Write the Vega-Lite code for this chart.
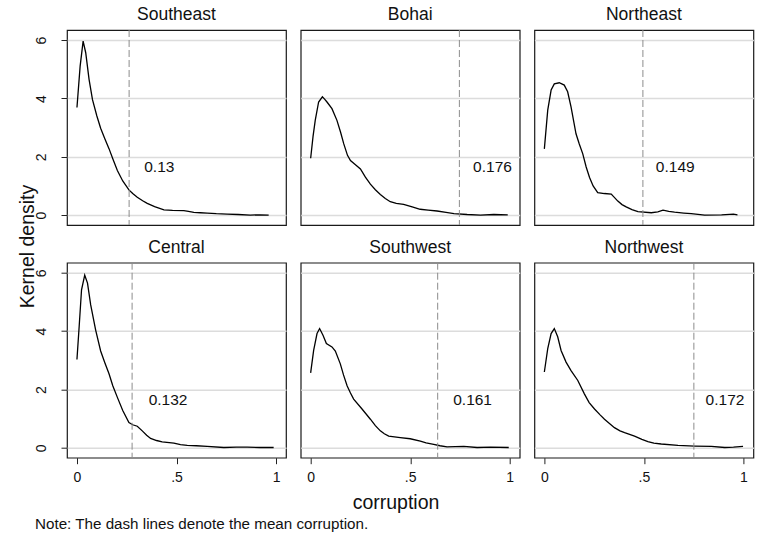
{
  "$schema": "https://vega.github.io/schema/vega-lite/v6.json",
  "background": "#ffffff",
  "padding": {"left": 16, "top": 5, "right": 5, "bottom": 5},
  "datasets": {
    "curves": [
      {"region":"Southeast","corruption":0.0,"density":3.69},{"region":"Southeast","corruption":0.016,"density":5.11},{"region":"Southeast","corruption":0.031,"density":5.97},{"region":"Southeast","corruption":0.044,"density":5.57},{"region":"Southeast","corruption":0.061,"density":4.65},{"region":"Southeast","corruption":0.078,"density":3.96},{"region":"Southeast","corruption":0.10,"density":3.4},{"region":"Southeast","corruption":0.119,"density":2.98},{"region":"Southeast","corruption":0.14,"density":2.62},{"region":"Southeast","corruption":0.161,"density":2.28},{"region":"Southeast","corruption":0.18,"density":1.93},{"region":"Southeast","corruption":0.203,"density":1.53},{"region":"Southeast","corruption":0.23,"density":1.17},{"region":"Southeast","corruption":0.261,"density":0.865},{"region":"Southeast","corruption":0.28,"density":0.74},{"region":"Southeast","corruption":0.303,"density":0.61},{"region":"Southeast","corruption":0.33,"density":0.49},{"region":"Southeast","corruption":0.353,"density":0.40},{"region":"Southeast","corruption":0.39,"density":0.29},{"region":"Southeast","corruption":0.437,"density":0.18},{"region":"Southeast","corruption":0.48,"density":0.16},{"region":"Southeast","corruption":0.537,"density":0.15},{"region":"Southeast","corruption":0.56,"density":0.13},{"region":"Southeast","corruption":0.587,"density":0.09},{"region":"Southeast","corruption":0.62,"density":0.08},{"region":"Southeast","corruption":0.654,"density":0.07},{"region":"Southeast","corruption":0.70,"density":0.05},{"region":"Southeast","corruption":0.754,"density":0.035},{"region":"Southeast","corruption":0.81,"density":0.02},{"region":"Southeast","corruption":0.87,"density":0.0},{"region":"Southeast","corruption":0.92,"density":0.01},{"region":"Southeast","corruption":0.963,"density":0.0},
      {"region":"Bohai","corruption":0.0,"density":1.95},{"region":"Bohai","corruption":0.012,"density":2.7},{"region":"Bohai","corruption":0.023,"density":3.25},{"region":"Bohai","corruption":0.04,"density":3.88},{"region":"Bohai","corruption":0.059,"density":4.06},{"region":"Bohai","corruption":0.07,"density":3.98},{"region":"Bohai","corruption":0.082,"density":3.88},{"region":"Bohai","corruption":0.107,"density":3.65},{"region":"Bohai","corruption":0.132,"density":3.25},{"region":"Bohai","corruption":0.15,"density":2.85},{"region":"Bohai","corruption":0.166,"density":2.45},{"region":"Bohai","corruption":0.185,"density":2.05},{"region":"Bohai","corruption":0.2,"density":1.87},{"region":"Bohai","corruption":0.225,"density":1.73},{"region":"Bohai","corruption":0.25,"density":1.58},{"region":"Bohai","corruption":0.275,"density":1.3},{"region":"Bohai","corruption":0.30,"density":1.06},{"region":"Bohai","corruption":0.325,"density":0.87},{"region":"Bohai","corruption":0.35,"density":0.71},{"region":"Bohai","corruption":0.375,"density":0.57},{"region":"Bohai","corruption":0.40,"density":0.46},{"region":"Bohai","corruption":0.43,"density":0.40},{"region":"Bohai","corruption":0.467,"density":0.37},{"region":"Bohai","corruption":0.51,"density":0.28},{"region":"Bohai","corruption":0.55,"density":0.20},{"region":"Bohai","corruption":0.59,"density":0.17},{"region":"Bohai","corruption":0.635,"density":0.14},{"region":"Bohai","corruption":0.68,"density":0.09},{"region":"Bohai","corruption":0.72,"density":0.05},{"region":"Bohai","corruption":0.786,"density":0.02},{"region":"Bohai","corruption":0.853,"density":0.0},{"region":"Bohai","corruption":0.92,"density":0.02},{"region":"Bohai","corruption":0.99,"density":0.01},
      {"region":"Northeast","corruption":0.0,"density":2.27},{"region":"Northeast","corruption":0.017,"density":3.6},{"region":"Northeast","corruption":0.034,"density":4.29},{"region":"Northeast","corruption":0.05,"density":4.5},{"region":"Northeast","corruption":0.075,"density":4.54},{"region":"Northeast","corruption":0.10,"density":4.46},{"region":"Northeast","corruption":0.117,"density":4.23},{"region":"Northeast","corruption":0.134,"density":3.71},{"region":"Northeast","corruption":0.159,"density":2.79},{"region":"Northeast","corruption":0.175,"density":2.45},{"region":"Northeast","corruption":0.193,"density":2.10},{"region":"Northeast","corruption":0.21,"density":1.65},{"region":"Northeast","corruption":0.227,"density":1.29},{"region":"Northeast","corruption":0.245,"density":1.0},{"region":"Northeast","corruption":0.268,"density":0.77},{"region":"Northeast","corruption":0.302,"density":0.74},{"region":"Northeast","corruption":0.336,"density":0.72},{"region":"Northeast","corruption":0.369,"density":0.48},{"region":"Northeast","corruption":0.39,"density":0.36},{"region":"Northeast","corruption":0.411,"density":0.28},{"region":"Northeast","corruption":0.44,"density":0.19},{"region":"Northeast","corruption":0.47,"density":0.12},{"region":"Northeast","corruption":0.537,"density":0.08},{"region":"Northeast","corruption":0.57,"density":0.11},{"region":"Northeast","corruption":0.596,"density":0.17},{"region":"Northeast","corruption":0.625,"density":0.13},{"region":"Northeast","corruption":0.654,"density":0.10},{"region":"Northeast","corruption":0.70,"density":0.07},{"region":"Northeast","corruption":0.738,"density":0.05},{"region":"Northeast","corruption":0.805,"density":0.0},{"region":"Northeast","corruption":0.89,"density":0.01},{"region":"Northeast","corruption":0.95,"density":0.03},{"region":"Northeast","corruption":0.97,"density":0.01},
      {"region":"Central","corruption":0.0,"density":3.03},{"region":"Central","corruption":0.011,"density":4.15},{"region":"Central","corruption":0.023,"density":5.42},{"region":"Central","corruption":0.039,"density":5.92},{"region":"Central","corruption":0.053,"density":5.65},{"region":"Central","corruption":0.069,"density":4.9},{"region":"Central","corruption":0.094,"density":4.04},{"region":"Central","corruption":0.119,"density":3.32},{"region":"Central","corruption":0.14,"density":2.92},{"region":"Central","corruption":0.161,"density":2.54},{"region":"Central","corruption":0.18,"density":2.13},{"region":"Central","corruption":0.203,"density":1.73},{"region":"Central","corruption":0.23,"density":1.28},{"region":"Central","corruption":0.261,"density":0.865},{"region":"Central","corruption":0.28,"density":0.79},{"region":"Central","corruption":0.303,"density":0.74},{"region":"Central","corruption":0.328,"density":0.58},{"region":"Central","corruption":0.35,"density":0.43},{"region":"Central","corruption":0.37,"density":0.32},{"region":"Central","corruption":0.40,"density":0.25},{"region":"Central","corruption":0.428,"density":0.20},{"region":"Central","corruption":0.487,"density":0.16},{"region":"Central","corruption":0.52,"density":0.11},{"region":"Central","corruption":0.554,"density":0.08},{"region":"Central","corruption":0.60,"density":0.07},{"region":"Central","corruption":0.654,"density":0.05},{"region":"Central","corruption":0.738,"density":0.01},{"region":"Central","corruption":0.80,"density":0.02},{"region":"Central","corruption":0.855,"density":0.02},{"region":"Central","corruption":0.92,"density":0.01},{"region":"Central","corruption":0.988,"density":0.01},
      {"region":"Southwest","corruption":0.0,"density":2.57},{"region":"Southwest","corruption":0.015,"density":3.34},{"region":"Southwest","corruption":0.032,"density":3.92},{"region":"Southwest","corruption":0.045,"density":4.09},{"region":"Southwest","corruption":0.062,"density":3.86},{"region":"Southwest","corruption":0.079,"density":3.58},{"region":"Southwest","corruption":0.107,"density":3.46},{"region":"Southwest","corruption":0.124,"density":3.32},{"region":"Southwest","corruption":0.149,"density":2.88},{"region":"Southwest","corruption":0.165,"density":2.5},{"region":"Southwest","corruption":0.183,"density":2.13},{"region":"Southwest","corruption":0.2,"density":1.88},{"region":"Southwest","corruption":0.216,"density":1.67},{"region":"Southwest","corruption":0.258,"density":1.33},{"region":"Southwest","corruption":0.30,"density":0.98},{"region":"Southwest","corruption":0.325,"density":0.76},{"region":"Southwest","corruption":0.35,"density":0.58},{"region":"Southwest","corruption":0.37,"density":0.48},{"region":"Southwest","corruption":0.392,"density":0.40},{"region":"Southwest","corruption":0.45,"density":0.35},{"region":"Southwest","corruption":0.50,"density":0.31},{"region":"Southwest","corruption":0.551,"density":0.23},{"region":"Southwest","corruption":0.58,"density":0.17},{"region":"Southwest","corruption":0.618,"density":0.12},{"region":"Southwest","corruption":0.65,"density":0.07},{"region":"Southwest","corruption":0.685,"density":0.03},{"region":"Southwest","corruption":0.769,"density":0.05},{"region":"Southwest","corruption":0.836,"density":0.01},{"region":"Southwest","corruption":0.903,"density":0.02},{"region":"Southwest","corruption":0.995,"density":0.01},
      {"region":"Northwest","corruption":0.0,"density":2.6},{"region":"Northwest","corruption":0.017,"density":3.4},{"region":"Northwest","corruption":0.034,"density":3.92},{"region":"Northwest","corruption":0.05,"density":4.09},{"region":"Northwest","corruption":0.067,"density":3.81},{"region":"Northwest","corruption":0.084,"density":3.34},{"region":"Northwest","corruption":0.109,"density":2.94},{"region":"Northwest","corruption":0.134,"density":2.65},{"region":"Northwest","corruption":0.168,"density":2.31},{"region":"Northwest","corruption":0.201,"density":1.85},{"region":"Northwest","corruption":0.225,"density":1.55},{"region":"Northwest","corruption":0.252,"density":1.33},{"region":"Northwest","corruption":0.28,"density":1.13},{"region":"Northwest","corruption":0.302,"density":0.98},{"region":"Northwest","corruption":0.33,"density":0.82},{"region":"Northwest","corruption":0.352,"density":0.69},{"region":"Northwest","corruption":0.38,"density":0.58},{"region":"Northwest","corruption":0.403,"density":0.52},{"region":"Northwest","corruption":0.453,"density":0.40},{"region":"Northwest","corruption":0.49,"density":0.29},{"region":"Northwest","corruption":0.52,"density":0.21},{"region":"Northwest","corruption":0.55,"density":0.16},{"region":"Northwest","corruption":0.587,"density":0.13},{"region":"Northwest","corruption":0.671,"density":0.08},{"region":"Northwest","corruption":0.755,"density":0.06},{"region":"Northwest","corruption":0.839,"density":0.05},{"region":"Northwest","corruption":0.906,"density":0.01},{"region":"Northwest","corruption":0.95,"density":0.02},{"region":"Northwest","corruption":0.998,"density":0.05}
    ],
    "means": [
      {"region":"Southeast","mean_line":0.262,"label_x":0.338,"label_y":1.65,"label":"0.13"},
      {"region":"Bohai","mean_line":0.747,"label_x":0.816,"label_y":1.65,"label":"0.176"},
      {"region":"Northeast","mean_line":0.495,"label_x":0.56,"label_y":1.65,"label":"0.149"},
      {"region":"Central","mean_line":0.277,"label_x":0.36,"label_y":1.65,"label":"0.132"},
      {"region":"Southwest","mean_line":0.638,"label_x":0.716,"label_y":1.65,"label":"0.161"},
      {"region":"Northwest","mean_line":0.751,"label_x":0.81,"label_y":1.65,"label":"0.172"}
    ]
  },
  "title": {"text": "Note: The dash lines denote the mean corruption.", "orient": "bottom", "anchor": "start", "frame": "group", "fontSize": 15.2, "fontWeight": "normal", "color": "#111", "baseline": "alphabetic", "offset": 16, "dx": -32},
  "columns": 3,
  "spacing": {"row": 37.7, "column": 14.7},
  "bounds": "flush",
  "concat": [
    {"width":219,"height":195,"title":{"text":"Southeast"},
     "layer":[
      {"data":{"name":"curves"},"transform":[{"filter":"datum.region === 'Southeast'"}],"mark":{"type":"line","color":"#000","strokeWidth":1.3},
       "encoding":{"x":{"field":"corruption","type":"quantitative","scale":{"domain":[-0.05,1.05],"nice":false,"zero":false},"axis":null},
                   "y":{"field":"density","type":"quantitative","scale":{"domain":[-0.34,6.35],"nice":false,"zero":false},"axis":{"values":[0,2,4,6],"grid":true,"labelAngle":-90,"labelAlign":"center","labelBaseline":"alphabetic","labelPadding":16,"title":"Kernel density","titleX":-33.5,"titleY":216,"titleAngle":270,"titleAlign":"center","titleBaseline":"alphabetic"}}}},
      {"data":{"name":"means"},"transform":[{"filter":"datum.region === 'Southeast'"}],"mark":{"type":"rule","strokeDash":[7,3],"color":"#8c8c8c","strokeWidth":1},
       "encoding":{"x":{"field":"mean_line","type":"quantitative","axis":null}}},
      {"data":{"name":"means"},"transform":[{"filter":"datum.region === 'Southeast'"}],"mark":{"type":"text","align":"left","baseline":"middle","font":"Liberation Sans","fontSize":15.5,"color":"#111"},
       "encoding":{"x":{"field":"label_x","type":"quantitative","axis":null},"y":{"field":"label_y","type":"quantitative","axis":{"values":[0,2,4,6],"grid":true,"labelAngle":-90,"labelAlign":"center","labelBaseline":"alphabetic","labelPadding":16,"title":"Kernel density","titleX":-33.5,"titleY":216,"titleAngle":270,"titleAlign":"center","titleBaseline":"alphabetic"}},"text":{"field":"label"}}}
     ]},
    {"width":219,"height":195,"title":{"text":"Bohai"},
     "layer":[
      {"data":{"name":"curves"},"transform":[{"filter":"datum.region === 'Bohai'"}],"mark":{"type":"line","color":"#000","strokeWidth":1.3},
       "encoding":{"x":{"field":"corruption","type":"quantitative","scale":{"domain":[-0.05,1.05],"nice":false,"zero":false},"axis":null},
                   "y":{"field":"density","type":"quantitative","scale":{"domain":[-0.34,6.35],"nice":false,"zero":false},"axis":{"values":[0,2,4,6],"grid":true,"labels":false,"ticks":false,"title":null}}}},
      {"data":{"name":"means"},"transform":[{"filter":"datum.region === 'Bohai'"}],"mark":{"type":"rule","strokeDash":[7,3],"color":"#8c8c8c","strokeWidth":1},
       "encoding":{"x":{"field":"mean_line","type":"quantitative","axis":null}}},
      {"data":{"name":"means"},"transform":[{"filter":"datum.region === 'Bohai'"}],"mark":{"type":"text","align":"left","baseline":"middle","font":"Liberation Sans","fontSize":15.5,"color":"#111"},
       "encoding":{"x":{"field":"label_x","type":"quantitative","axis":null},"y":{"field":"label_y","type":"quantitative","axis":{"values":[0,2,4,6],"grid":true,"labels":false,"ticks":false,"title":null}},"text":{"field":"label"}}}
     ]},
    {"width":219,"height":195,"title":{"text":"Northeast"},
     "layer":[
      {"data":{"name":"curves"},"transform":[{"filter":"datum.region === 'Northeast'"}],"mark":{"type":"line","color":"#000","strokeWidth":1.3},
       "encoding":{"x":{"field":"corruption","type":"quantitative","scale":{"domain":[-0.05,1.05],"nice":false,"zero":false},"axis":null},
                   "y":{"field":"density","type":"quantitative","scale":{"domain":[-0.34,6.35],"nice":false,"zero":false},"axis":{"values":[0,2,4,6],"grid":true,"labels":false,"ticks":false,"title":null}}}},
      {"data":{"name":"means"},"transform":[{"filter":"datum.region === 'Northeast'"}],"mark":{"type":"rule","strokeDash":[7,3],"color":"#8c8c8c","strokeWidth":1},
       "encoding":{"x":{"field":"mean_line","type":"quantitative","axis":null}}},
      {"data":{"name":"means"},"transform":[{"filter":"datum.region === 'Northeast'"}],"mark":{"type":"text","align":"left","baseline":"middle","font":"Liberation Sans","fontSize":15.5,"color":"#111"},
       "encoding":{"x":{"field":"label_x","type":"quantitative","axis":null},"y":{"field":"label_y","type":"quantitative","axis":{"values":[0,2,4,6],"grid":true,"labels":false,"ticks":false,"title":null}},"text":{"field":"label"}}}
     ]},
    {"width":219,"height":195,"title":{"text":"Central"},
     "layer":[
      {"data":{"name":"curves"},"transform":[{"filter":"datum.region === 'Central'"}],"mark":{"type":"line","color":"#000","strokeWidth":1.3},
       "encoding":{"x":{"field":"corruption","type":"quantitative","scale":{"domain":[-0.05,1.05],"nice":false,"zero":false},"axis":{"values":[0,0.5,1],"grid":false,"labelFlush":false,"labelExpr":"datum.value == 0.5 ? '.5' : (datum.value == 1 ? '1' : '0')","title":null}},
                   "y":{"field":"density","type":"quantitative","scale":{"domain":[-0.34,6.35],"nice":false,"zero":false},"axis":{"values":[0,2,4,6],"grid":true,"labelAngle":-90,"labelAlign":"center","labelBaseline":"alphabetic","labelPadding":16,"title":null}}}},
      {"data":{"name":"means"},"transform":[{"filter":"datum.region === 'Central'"}],"mark":{"type":"rule","strokeDash":[7,3],"color":"#8c8c8c","strokeWidth":1},
       "encoding":{"x":{"field":"mean_line","type":"quantitative","axis":{"values":[0,0.5,1],"grid":false,"labelFlush":false,"labelExpr":"datum.value == 0.5 ? '.5' : (datum.value == 1 ? '1' : '0')","title":null}}}},
      {"data":{"name":"means"},"transform":[{"filter":"datum.region === 'Central'"}],"mark":{"type":"text","align":"left","baseline":"middle","font":"Liberation Sans","fontSize":15.5,"color":"#111"},
       "encoding":{"x":{"field":"label_x","type":"quantitative","axis":{"values":[0,0.5,1],"grid":false,"labelFlush":false,"labelExpr":"datum.value == 0.5 ? '.5' : (datum.value == 1 ? '1' : '0')","title":null}},"y":{"field":"label_y","type":"quantitative","axis":{"values":[0,2,4,6],"grid":true,"labelAngle":-90,"labelAlign":"center","labelBaseline":"alphabetic","labelPadding":16,"title":null}},"text":{"field":"label"}}}
     ]},
    {"width":219,"height":195,"title":{"text":"Southwest"},
     "layer":[
      {"data":{"name":"curves"},"transform":[{"filter":"datum.region === 'Southwest'"}],"mark":{"type":"line","color":"#000","strokeWidth":1.3},
       "encoding":{"x":{"field":"corruption","type":"quantitative","scale":{"domain":[-0.05,1.05],"nice":false,"zero":false},"axis":{"values":[0,0.5,1],"grid":false,"labelFlush":false,"labelExpr":"datum.value == 0.5 ? '.5' : (datum.value == 1 ? '1' : '0')","title":"corruption","titleX":94.8,"titleY":50.7,"titleAlign":"center","titleBaseline":"alphabetic"}},
                   "y":{"field":"density","type":"quantitative","scale":{"domain":[-0.34,6.35],"nice":false,"zero":false},"axis":{"values":[0,2,4,6],"grid":true,"labels":false,"ticks":false,"title":null}}}},
      {"data":{"name":"means"},"transform":[{"filter":"datum.region === 'Southwest'"}],"mark":{"type":"rule","strokeDash":[7,3],"color":"#8c8c8c","strokeWidth":1},
       "encoding":{"x":{"field":"mean_line","type":"quantitative","axis":{"values":[0,0.5,1],"grid":false,"labelFlush":false,"labelExpr":"datum.value == 0.5 ? '.5' : (datum.value == 1 ? '1' : '0')","title":"corruption","titleX":94.8,"titleY":50.7,"titleAlign":"center","titleBaseline":"alphabetic"}}}},
      {"data":{"name":"means"},"transform":[{"filter":"datum.region === 'Southwest'"}],"mark":{"type":"text","align":"left","baseline":"middle","font":"Liberation Sans","fontSize":15.5,"color":"#111"},
       "encoding":{"x":{"field":"label_x","type":"quantitative","axis":{"values":[0,0.5,1],"grid":false,"labelFlush":false,"labelExpr":"datum.value == 0.5 ? '.5' : (datum.value == 1 ? '1' : '0')","title":"corruption","titleX":94.8,"titleY":50.7,"titleAlign":"center","titleBaseline":"alphabetic"}},"y":{"field":"label_y","type":"quantitative","axis":{"values":[0,2,4,6],"grid":true,"labels":false,"ticks":false,"title":null}},"text":{"field":"label"}}}
     ]},
    {"width":219,"height":195,"title":{"text":"Northwest"},
     "layer":[
      {"data":{"name":"curves"},"transform":[{"filter":"datum.region === 'Northwest'"}],"mark":{"type":"line","color":"#000","strokeWidth":1.3},
       "encoding":{"x":{"field":"corruption","type":"quantitative","scale":{"domain":[-0.05,1.05],"nice":false,"zero":false},"axis":{"values":[0,0.5,1],"grid":false,"labelFlush":false,"labelExpr":"datum.value == 0.5 ? '.5' : (datum.value == 1 ? '1' : '0')","title":null}},
                   "y":{"field":"density","type":"quantitative","scale":{"domain":[-0.34,6.35],"nice":false,"zero":false},"axis":{"values":[0,2,4,6],"grid":true,"labels":false,"ticks":false,"title":null}}}},
      {"data":{"name":"means"},"transform":[{"filter":"datum.region === 'Northwest'"}],"mark":{"type":"rule","strokeDash":[7,3],"color":"#8c8c8c","strokeWidth":1},
       "encoding":{"x":{"field":"mean_line","type":"quantitative","axis":{"values":[0,0.5,1],"grid":false,"labelFlush":false,"labelExpr":"datum.value == 0.5 ? '.5' : (datum.value == 1 ? '1' : '0')","title":null}}}},
      {"data":{"name":"means"},"transform":[{"filter":"datum.region === 'Northwest'"}],"mark":{"type":"text","align":"left","baseline":"middle","font":"Liberation Sans","fontSize":15.5,"color":"#111"},
       "encoding":{"x":{"field":"label_x","type":"quantitative","axis":{"values":[0,0.5,1],"grid":false,"labelFlush":false,"labelExpr":"datum.value == 0.5 ? '.5' : (datum.value == 1 ? '1' : '0')","title":null}},"y":{"field":"label_y","type":"quantitative","axis":{"values":[0,2,4,6],"grid":true,"labels":false,"ticks":false,"title":null}},"text":{"field":"label"}}}
     ]}
  ],
  "config": {
    "font": "Liberation Sans",
    "view": {"stroke": "#1a1a1a", "strokeWidth": 1.2},
    "text": {"font": "Liberation Sans"},
    "axis": {"domain": false, "labelFont": "Liberation Sans", "labelFontSize": 14, "labelColor": "#111", "tickColor": "#222", "tickSize": 6, "tickWidth": 1, "labelPadding": 7, "gridColor": "#dcdcdc", "gridWidth": 1.5, "titleFont": "Liberation Sans", "titleFontSize": 19.5, "titleFontWeight": "normal", "titleColor": "#111"},
    "title": {"font": "Liberation Sans", "fontSize": 17.5, "fontWeight": "normal", "color": "#111", "baseline": "alphabetic", "offset": 6}
  }
}
